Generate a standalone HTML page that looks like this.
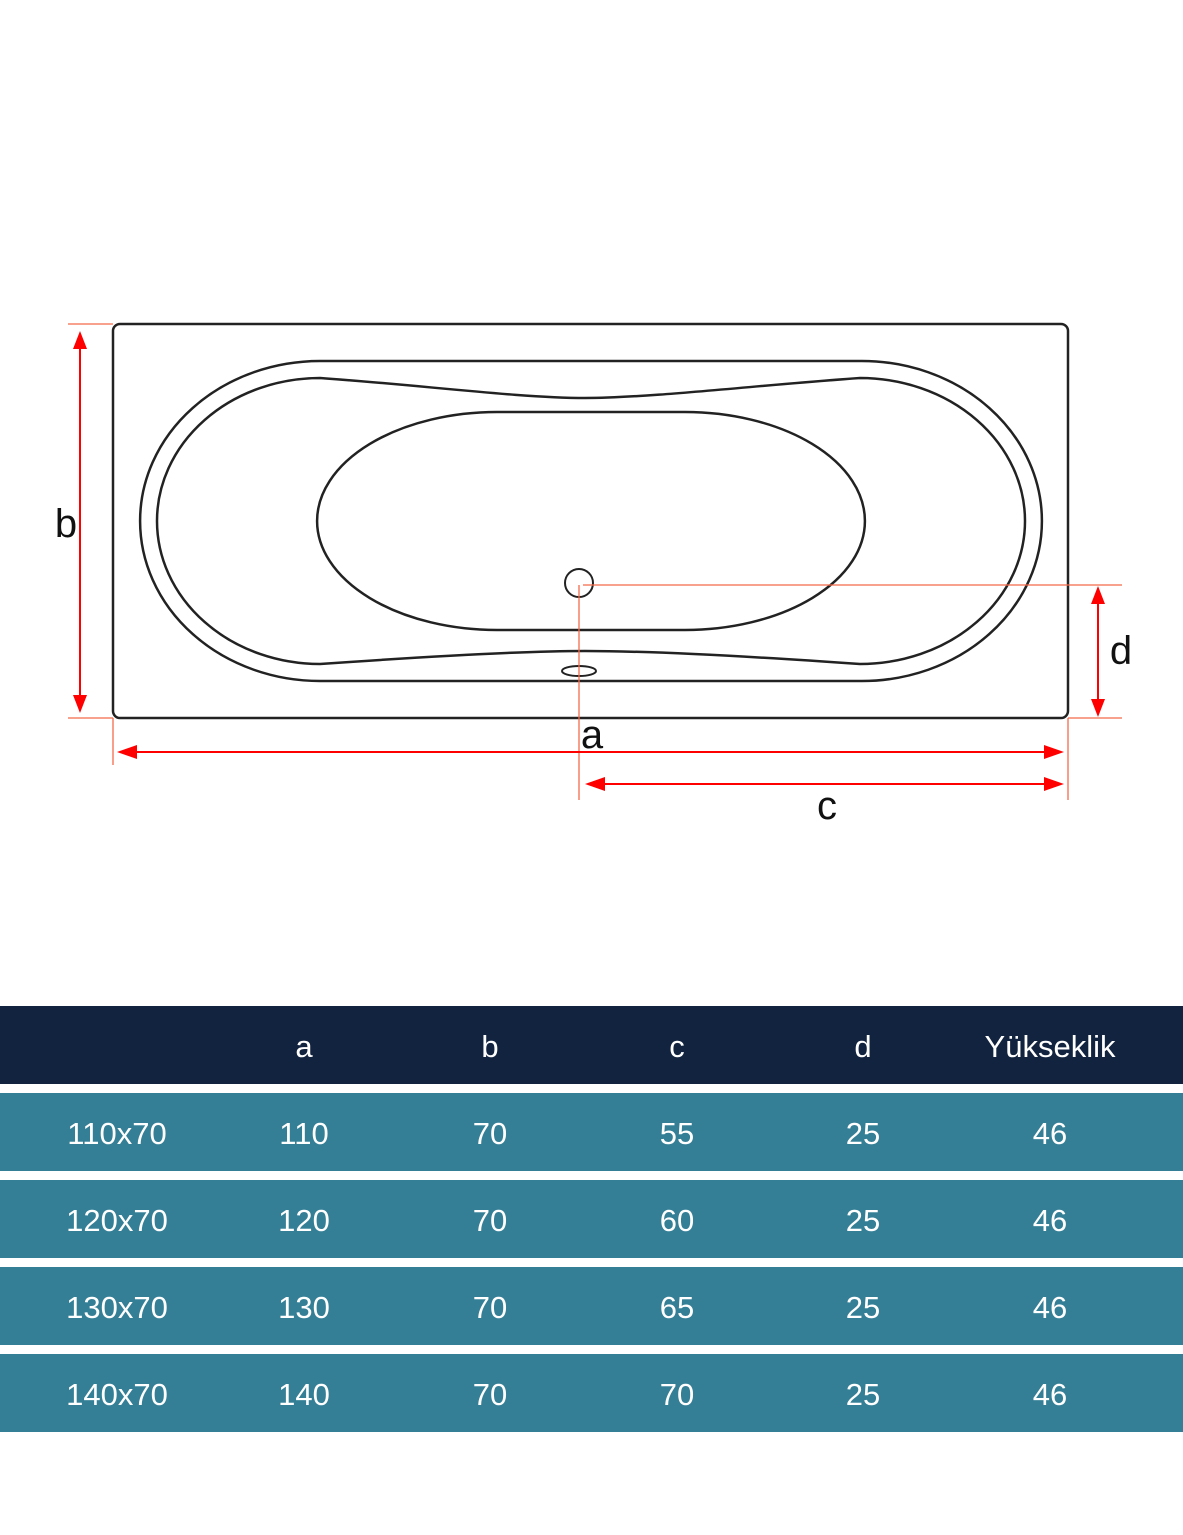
<!DOCTYPE html>
<html><head><meta charset="utf-8"><style>
body{margin:0;background:#fff;width:1183px;height:1535px;overflow:hidden;font-family:"Liberation Sans",sans-serif}
svg{position:absolute;left:0;top:0}
.row{position:absolute;left:0;width:1183px;height:78px;color:#fff;font-size:31px}
.row span{position:absolute;top:0;line-height:82px;width:200px;margin-left:-100px;text-align:center}
</style></head><body>
<svg width="1183" height="1000" viewBox="0 0 1183 1000">
<g fill="none" stroke="#222" stroke-width="2.5">
<rect x="113" y="324" width="955" height="394" rx="7"/>
<path d="M320 361 H862 A180 160 0 0 1 862 681 H320 A180 160 0 0 1 320 361 Z"/>
<path d="M320 378 C420 385 520 398 585 398 C650 398 760 385 860 378 A165 143 0 0 1 860 664 C760 657 650 651 585 651 C520 651 420 657 320 664 A163 143 0 0 1 320 378 Z"/>
<path d="M497 412 H685 A180 109 0 0 1 685 630 H497 A180 109 0 0 1 497 412 Z"/>
<circle cx="579" cy="583" r="14" stroke-width="2"/>
<ellipse cx="579" cy="671" rx="17" ry="5" stroke-width="2"/>
</g>
<g stroke="#f36a4a" stroke-width="1.3">
<line x1="68" y1="324" x2="113" y2="324"/><line x1="68" y1="718" x2="113" y2="718"/>
<line x1="113" y1="718" x2="113" y2="765"/><line x1="1068" y1="718" x2="1068" y2="800"/>
<line x1="579" y1="585" x2="579" y2="800"/>
<line x1="583" y1="585" x2="1122" y2="585"/><line x1="1068" y1="718" x2="1122" y2="718"/>
</g>
<g stroke="#f00" stroke-width="2">
<line x1="80" y1="345" x2="80" y2="700"/>
<line x1="132" y1="752" x2="1050" y2="752"/>
<line x1="600" y1="784" x2="1050" y2="784"/>
<line x1="1098" y1="600" x2="1098" y2="703"/>
</g>
<g fill="#f00">
<polygon points="80,331 73,349 87,349"/><polygon points="80,713 73,695 87,695"/>
<polygon points="117,752 137,745 137,759"/><polygon points="1064,752 1044,745 1044,759"/>
<polygon points="585,784 605,777 605,791"/><polygon points="1064,784 1044,777 1044,791"/>
<polygon points="1098,586 1091,604 1105,604"/><polygon points="1098,717 1091,699 1105,699"/>
</g>
<g font-family="Liberation Sans,sans-serif" font-size="40" fill="#111" text-anchor="middle">
<text x="66" y="537">b</text><text x="592" y="748">a</text><text x="827" y="819">c</text><text x="1121" y="664">d</text>
</g>
</svg>
<div class="row" style="top:1006px;background:#12233f"><span style="left:304px">a</span><span style="left:490px">b</span><span style="left:677px">c</span><span style="left:863px">d</span><span style="left:1050px">Yükseklik</span></div>
<div class="row" style="top:1093px;background:#347f96"><span style="left:117px">110x70</span><span style="left:304px">110</span><span style="left:490px">70</span><span style="left:677px">55</span><span style="left:863px">25</span><span style="left:1050px">46</span></div>
<div class="row" style="top:1180px;background:#347f96"><span style="left:117px">120x70</span><span style="left:304px">120</span><span style="left:490px">70</span><span style="left:677px">60</span><span style="left:863px">25</span><span style="left:1050px">46</span></div>
<div class="row" style="top:1267px;background:#347f96"><span style="left:117px">130x70</span><span style="left:304px">130</span><span style="left:490px">70</span><span style="left:677px">65</span><span style="left:863px">25</span><span style="left:1050px">46</span></div>
<div class="row" style="top:1354px;background:#347f96"><span style="left:117px">140x70</span><span style="left:304px">140</span><span style="left:490px">70</span><span style="left:677px">70</span><span style="left:863px">25</span><span style="left:1050px">46</span></div>
</body></html>
